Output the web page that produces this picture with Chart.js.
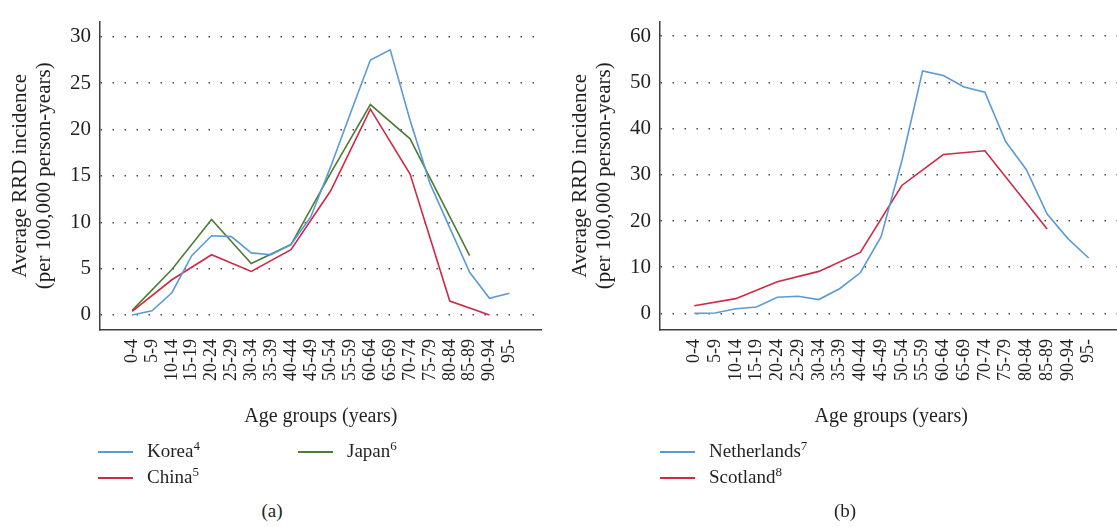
<!DOCTYPE html>
<html>
<head>
<meta charset="utf-8">
<script src="https://cdn.jsdelivr.net/npm/chart.js@4"></script>
<style>
  body { margin: 0; width: 1117px; height: 527px; overflow: hidden; background: #fff; position: relative;
         font-family: 'Liberation Serif', serif; color: #231f20; }
  .panel { position: absolute; top: 0; }
  .key { position: absolute; height: 1.5px; width: 35px; }
  .lab { position: absolute; font-size: 19px; line-height: 20px; white-space: nowrap; }
  .lab sup { font-size: 13px; vertical-align: 7px; line-height: 0; }
  .cap { position: absolute; font-size: 19px; line-height: 20px; transform: translateX(-50%); }
</style>
</head>
<body>
<div class="panel" style="left:0"><canvas id="chartA" width="560" height="440"></canvas></div>
<div class="panel" style="left:560px"><canvas id="chartB" width="570" height="440"></canvas></div>

<div class="key" style="left:98px;top:451px;background:#5b9bd5"></div>
<div class="lab" style="left:147px;top:441px">Korea<sup>4</sup></div>
<div class="key" style="left:98px;top:477px;background:#cf2a45"></div>
<div class="lab" style="left:147px;top:467px">China<sup>5</sup></div>
<div class="key" style="left:298px;top:451px;background:#4f7d32"></div>
<div class="lab" style="left:347px;top:441px">Japan<sup>6</sup></div>
<div class="cap" style="left:272px;top:501px">(a)</div>

<div class="key" style="left:660px;top:451px;background:#5b9bd5"></div>
<div class="lab" style="left:709px;top:441px">Netherlands<sup>7</sup></div>
<div class="key" style="left:660px;top:477px;background:#cf2a45"></div>
<div class="lab" style="left:709px;top:467px">Scotland<sup>8</sup></div>
<div class="cap" style="left:845px;top:501px">(b)</div>

<script>
const ageGroups = ['0-4', '5-9', '10-14', '15-19', '20-24', '25-29', '30-34', '35-39', '40-44', '45-49',
  '50-54', '55-59', '60-64', '65-69', '70-74', '75-79', '80-84', '85-89', '90-94', '95-'];

// panel (a)
const korea = [0, 0.45, 2.4, 6.4, 8.55, 8.45, 6.7, 6.5, 7.6, 10.6, 16, 21.8, 27.5, 28.6, 21, 14.2, 9.4, 4.6, 1.8, 2.35];
const china = [0.4, null, 3.8, null, 6.5, null, 4.7, null, 7.05, null, 13.4, null, 22.2, null, 15.2, null, 1.5, null, 0, null];
const japan = [0.5, null, 4.9, null, 10.3, null, 5.55, null, 7.6, null, 15.3, null, 22.7, null, 19.0, null, null, 6.4, null, null];
const yTicksA = [0, 5, 10, 15, 20, 25, 30];

// panel (b)
const netherlands = [0, 0.1, 1.0, 1.4, 3.5, 3.7, 3.0, 5.35, 8.8, 16.6, 33.0, 52.5, 51.5, 49.0, 47.9, 37.2, 31.1, 21.5, 16.2, 12.0];
const scotland = [1.66, null, 3.2, null, 6.85, null, 9.1, null, 13.2, null, 27.7, null, 34.4, null, 35.2, null, null, 18.3, null, null];
const yTicksB = [0, 10, 20, 30, 40, 50, 60];

const blue = '#5b9bd5';
const red = '#cf2a45';
const green = '#4f7d32';
const serif = 'Liberation Serif';

function series(values, color) {
  return {
    data: values.map((v, i) => ({ x: i, y: v })),
    borderColor: color,
    borderWidth: 1.6,
    pointRadius: 0,
    spanGaps: true,
    tension: 0
  };
}

function makeChart(id, datasets, yTicks, yMin, yMax, xMin, xMax, padRight) {
  return new Chart(document.getElementById(id), {
    type: 'line',
    data: { datasets: datasets },
    options: {
      responsive: false,
      animation: false,
      layout: { padding: { top: 8, right: padRight, left: 0, bottom: 0 } },
      plugins: { legend: { display: false }, tooltip: { enabled: false } },
      scales: {
        x: {
          type: 'linear',
          min: xMin,
          max: xMax,
          afterBuildTicks: (axis) => { axis.ticks = ageGroups.map((_, i) => ({ value: i })); },
          afterFit: (axis) => { axis.height = 110; },
          grid: { display: false, drawTicks: false },
          border: { display: true, color: '#3d3d3d', width: 1.5 },
          ticks: {
            autoSkip: false,
            maxRotation: 90,
            minRotation: 90,
            padding: 9,
            color: '#231f20',
            font: { family: serif, size: 18 },
            callback: (v) => ageGroups[v]
          },
          title: {
            display: true,
            text: 'Age groups (years)',
            color: '#231f20',
            font: { family: serif, size: 20 },
            padding: { top: 0, bottom: 11 }
          }
        },
        y: {
          min: yMin,
          max: yMax,
          afterBuildTicks: (axis) => { axis.ticks = yTicks.map(v => ({ value: v })); },
          afterFit: (axis) => { axis.width = 100; },
          grid: { color: '#4a4a4a', lineWidth: 1.5, drawTicks: false },
          border: { display: true, color: '#3d3d3d', width: 1.5, dash: [1.5, 10.5] },
          ticks: {
            padding: 9,
            color: '#231f20',
            font: { family: serif, size: 21 }
          },
          title: {
            display: true,
            text: ['Average RRD incidence', '(per 100,000 person-years)'],
            color: '#231f20',
            font: { family: serif, size: 21, lineHeight: 1.15 },
            padding: { top: 8, bottom: 0 }
          }
        }
      }
    }
  });
}

makeChart('chartA', [series(korea, blue), series(china, red), series(japan, green)],
  yTicksA, -1.62, 31.65, -1.62, 20.63, 18.3);
makeChart('chartB', [series(netherlands, blue), series(scotland, red)],
  yTicksB, -3.59, 63.17, -1.65, 20.63, 7.5);
</script>
</body>
</html>
